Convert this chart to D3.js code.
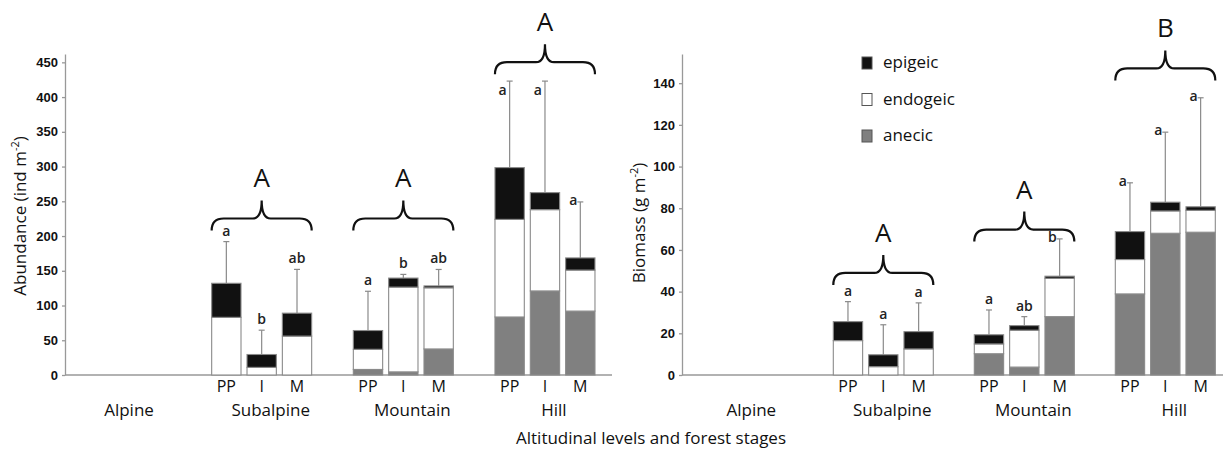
<!DOCTYPE html>
<html lang="en">
<head>
    <meta charset="UTF-8">
    <title>Earthworm abundance and biomass</title>
    <script src="https://d3js.org/d3.v7.min.js"></script>
    <style>
        body { margin: 0; background: #fff; }
        svg { font-family: "Open Sans", Arial, sans-serif; }
        .axis path, .axis line { stroke: #999; stroke-width: 1.3; }
        .axis text { font-size: 13px; font-weight: 600; fill: #111; }
        .lbl { font-size: 17px; fill: #111; }
        .stage { font-size: 16px; fill: #111; }
        .sig { font-size: 14px; font-weight: 600; fill: #222; }
        .big { font-size: 26px; fill: #111; }
    </style>
</head>
<body>
<svg width="1223" height="450"></svg>
<script>
    // altitudinal levels and forest stages
    const groups = ["Alpine", "Subalpine", "Mountain", "Hill"];
    const stages = ["PP", "I", "M"];
    const series = ["anecic", "endogeic", "epigeic"];

    // bars in order Subalpine PP,I,M / Mountain PP,I,M / Hill PP,I,M
    const abundanceAnecic   = [0, 0, 0, 8, 4.5, 37.5, 83.5, 121, 92];
    const abundanceEndogeic = [83, 11, 56, 29, 122, 88, 140.5, 117, 59];
    const abundanceEpigeic  = [49, 18.5, 33, 27, 13, 2.7, 74.5, 24.5, 17.5];
    const abundanceError    = [60, 35, 63, 56.5, 5.3, 23.7, 124.5, 160.5, 80.6];
    const abundanceLetters  = ["a", "b", "ab", "a", "b", "ab", "a", "a", "a"];
    const abundanceBraces   = [null, 208, 208, 433];
    const abundanceGroupLetters = [null, "A", "A", "A"];
    const abundanceTicks = [0, 50, 100, 150, 200, 250, 300, 350, 400, 450];

    const biomassAnecic   = [0, 0, 0, 10.2, 3.8, 28, 38.9, 68, 68.5];
    const biomassEndogeic = [16.5, 4, 12.5, 4.7, 17.7, 18.4, 16.5, 10.7, 10.5];
    const biomassEpigeic  = [9.1, 5.7, 8.3, 4.4, 2.2, 1.0, 13.4, 4.2, 1.7];
    const biomassError    = [9.6, 14.4, 13.8, 11.9, 4.3, 17.9, 23.4, 33.6, 52.3];
    const biomassLetters  = ["a", "a", "a", "a", "ab", "b", "a", "a", "a"];
    const biomassBraces   = [null, 43.2, 64, 141.3];
    const biomassGroupLetters = [null, "A", "A", "B"];
    const biomassTicks = [0, 20, 40, 60, 80, 100, 120, 140];

    const colors = { anecic: "#808080", endogeic: "#ffffff", epigeic: "#111111" };
    const edge = "#8a8a8a";

    const svg = d3.select("svg");

    const stageX = d3.scaleBand().domain(stages).range([-53, 53])
        .paddingInner(0.17).paddingOuter(0.085);

    function drawPanel(p) {
        const g = svg.append("g");
        const x = d3.scaleBand().domain(groups).range(p.xRange);
        const y = d3.scaleLinear().domain(p.yDomain).range([375, 54]);
        const cx = gr => x(gr) + x.bandwidth() / 2;

        const rows = p.anecic.map((v, i) => ({
            group: groups[1 + Math.floor(i / 3)],
            stage: stages[i % 3],
            anecic: v, endogeic: p.endogeic[i], epigeic: p.epigeic[i],
            err: p.error[i], letter: p.letters[i]
        }));
        const stacked = d3.stack().keys(series)(rows);

        // axes
        g.append("g").attr("class", "axis")
            .attr("transform", `translate(${p.axisX},0)`)
            .call(d3.axisLeft(y).tickValues(p.ticks).tickSize(3).tickSizeOuter(0).tickPadding(4));
        g.append("line")
            .attr("x1", p.axisX).attr("x2", p.axisEnd)
            .attr("y1", y(0)).attr("y2", y(0))
            .attr("stroke", "#999").attr("stroke-width", 1.5);

        // stacked bars
        stacked.forEach(s => {
            g.append("g").selectAll("rect").data(s).join("rect")
                .attr("x", d => cx(d.data.group) + stageX(d.data.stage))
                .attr("width", stageX.bandwidth())
                .attr("y", d => y(d[1]))
                .attr("height", d => y(d[0]) - y(d[1]))
                .attr("fill", colors[s.key])
                .attr("stroke", edge).attr("stroke-width", 1.1);
        });

        // error bars and letters
        rows.forEach(r => {
            const total = r.anecic + r.endogeic + r.epigeic;
            const bx = cx(r.group) + stageX(r.stage) + stageX.bandwidth() / 2;
            const top = y(total + r.err);
            g.append("line").attr("x1", bx).attr("x2", bx)
                .attr("y1", y(total)).attr("y2", top)
                .attr("stroke", edge).attr("stroke-width", 1.2);
            g.append("line").attr("x1", bx - 3).attr("x2", bx + 3)
                .attr("y1", top).attr("y2", top)
                .attr("stroke", edge).attr("stroke-width", 1.2);
            const gi = groups.indexOf(r.group);
            const braceY = y(p.braces[gi]);
            const gap = top - braceY;
            const side = gi === groups.length - 1 || gap < 5;
            g.append("text").attr("class", "sig")
                .attr("x", side ? bx - 3 : bx)
                .attr("y", side ? (gap > 0 && gap < 10 ? top + 14 : top + 3) : top - 6)
                .attr("text-anchor", side ? "end" : "middle")
                .text(r.letter);
        });

        // braces with group letters
        groups.forEach((gr, gi) => {
            if (p.braces[gi] == null) return;
            const c = cx(gr), x1 = c - 50, x2 = c + 50;
            const yb = y(p.braces[gi]), ym = yb - 12, yt = yb - 30;
            g.append("path")
                .attr("d", `M${x1},${yb} Q${x1},${ym} ${x1 + 12},${ym} L${c - 9},${ym} Q${c},${ym} ${c},${yt}` +
                           ` Q${c},${ym} ${c + 9},${ym} L${x2 - 12},${ym} Q${x2},${ym} ${x2},${yb}`)
                .attr("fill", "none").attr("stroke", "#111").attr("stroke-width", 2.2);
            g.append("text").attr("class", "big")
                .attr("x", c).attr("y", yt - 13).attr("text-anchor", "middle")
                .text(p.groupLetters[gi]);
        });

        // stage and group labels
        rows.forEach(r => {
            g.append("text").attr("class", "stage")
                .attr("x", cx(r.group) + stageX(r.stage) + stageX.bandwidth() / 2)
                .attr("y", 392).attr("text-anchor", "middle").text(r.stage);
        });
        groups.forEach(gr => {
            g.append("text").attr("class", "lbl")
                .attr("x", cx(gr) + 9).attr("y", 416).attr("text-anchor", "middle").text(gr);
        });

        // y axis title
        const t = g.append("text").attr("class", "lbl")
            .attr("transform", `translate(${p.titleX},${p.titleY}) rotate(-90)`)
            .attr("text-anchor", "middle");
        t.append("tspan").text(p.title + " (" + p.unit + " m");
        t.append("tspan").attr("font-size", 11).attr("dy", -7).text("-2");
        t.append("tspan").attr("dy", 7).text(")");
    }

    drawPanel({
        xRange: [49.2, 49.2 + 4 * 141.65], axisX: 65, axisEnd: 612,
        yDomain: [0, 462], ticks: abundanceTicks,
        anecic: abundanceAnecic, endogeic: abundanceEndogeic, epigeic: abundanceEpigeic,
        error: abundanceError, letters: abundanceLetters,
        braces: abundanceBraces, groupLetters: abundanceGroupLetters,
        title: "Abundance", unit: "ind", titleX: 26, titleY: 216
    });

    drawPanel({
        xRange: [671.8, 671.8 + 4 * 141], axisX: 682, axisEnd: 1223,
        yDomain: [0, 154], ticks: biomassTicks,
        anecic: biomassAnecic, endogeic: biomassEndogeic, epigeic: biomassEpigeic,
        error: biomassError, letters: biomassLetters,
        braces: biomassBraces, groupLetters: biomassGroupLetters,
        title: "Biomass", unit: "g", titleX: 645, titleY: 223
    });

    // legend
    const legend = svg.append("g").attr("transform", "translate(862,57)");
    ["epigeic", "endogeic", "anecic"].forEach((k, i) => {
        legend.append("rect").attr("x", 0).attr("y", i * 36.5)
            .attr("width", 10).attr("height", 12)
            .attr("fill", colors[k]).attr("stroke", "#555").attr("stroke-width", 1);
        legend.append("text").attr("class", "lbl")
            .attr("x", 21).attr("y", i * 36.5 + 11).text(k);
    });

    svg.append("text").attr("class", "lbl")
        .attr("x", 651).attr("y", 444).attr("text-anchor", "middle")
        .text("Altitudinal levels and forest stages");
</script>
</body>
</html>
